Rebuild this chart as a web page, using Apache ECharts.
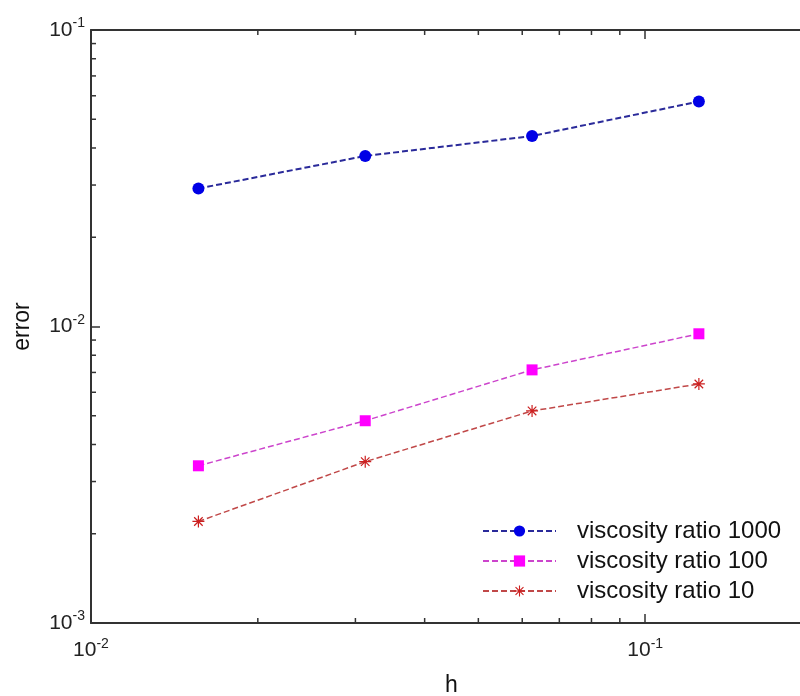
<!DOCTYPE html>
<html>
<head>
<meta charset="utf-8">
<script src="https://cdn.jsdelivr.net/npm/echarts@6/dist/echarts.min.js"></script>
<style>
html,body{margin:0;padding:0;background:#fff;}
#chart{width:800px;height:696px;}
</style>
</head>
<body>
<div id="chart"></div>
<script>
// ---- data ----
const hValues = [0.015625, 0.03125, 0.0625, 0.125];
const seriesNames = ['viscosity ratio 1000', 'viscosity ratio 100', 'viscosity ratio 10'];
const err1000 = [0.0292, 0.0376, 0.0439, 0.0574];
const err100 = [0.00339, 0.00481, 0.00714, 0.00945];
const err10 = [0.00220, 0.00350, 0.00519, 0.00640];
const xMinorTicks = [0.02, 0.03, 0.04, 0.05, 0.06, 0.07, 0.08, 0.09, 0.2];
const yMinorTicks = [0.002, 0.003, 0.004, 0.005, 0.006, 0.007, 0.008, 0.009,
                     0.02, 0.03, 0.04, 0.05, 0.06, 0.07, 0.08, 0.09];
const xMin = 0.01, xMax = 0.2, yMin = 0.001, yMax = 0.1;

const FONT = "'Liberation Sans', Arial, sans-serif";
const starPath = 'path://M9 0 L11 0 L11 20 L9 20 Z M0 9 L20 9 L20 11 L0 11 Z M2.2 3.6 L3.6 2.2 L17.8 16.4 L16.4 17.8 Z M16.4 2.2 L17.8 3.6 L3.6 17.8 L2.2 16.4 Z';

function powLabel(v) {
  const l = Math.log10(v);
  const e = Math.round(l);
  if (Math.abs(l - e) > 1e-6) return '';
  return '{b|10}{s|' + e + '}';
}
const labelRich = {
  b: { fontSize: 21, fontFamily: FONT, color: '#222' },
  s: { fontSize: 14, fontFamily: FONT, color: '#222', padding: [0, 0, 13, 0] }
};

const chart = echarts.init(document.getElementById('chart'), null, { renderer: 'canvas' });

function pairs(ys) { return hValues.map((x, i) => [x, ys[i]]); }

const axisLineStyle = { color: '#333', width: 2 };
const tickStyle = { color: '#333', width: 1.5 };

const option = {
  backgroundColor: '#fff',
  animation: false,
  grid: { left: 91, top: 30, width: 721, height: 593, containLabel: false, outerBoundsMode: 'none' },
  xAxis: [{
    type: 'log', logBase: 10, min: xMin, max: xMax,
    name: 'h', nameLocation: 'middle', nameGap: 51,
    nameTextStyle: { fontSize: 23, fontFamily: FONT, color: '#111' },
    axisLine: { show: true, lineStyle: axisLineStyle },
    axisTick: { show: true, inside: true, length: 9, lineStyle: tickStyle },
    axisLabel: { formatter: powLabel, rich: labelRich, margin: 14 },
    splitLine: { show: false }
  }, {
    type: 'log', logBase: 10, min: xMin, max: xMax, position: 'top',
    axisLine: { show: true, onZero: false, lineStyle: axisLineStyle },
    axisTick: { show: true, inside: true, length: 9, lineStyle: tickStyle },
    axisLabel: { show: false }, splitLine: { show: false }
  }],
  yAxis: [{
    type: 'log', logBase: 10, min: yMin, max: yMax,
    name: 'error', nameLocation: 'middle', nameGap: 57,
    nameTextStyle: { fontSize: 23, fontFamily: FONT, color: '#111' },
    axisLine: { show: true, lineStyle: axisLineStyle },
    axisTick: { show: true, inside: true, length: 9, lineStyle: tickStyle },
    axisLabel: { formatter: powLabel, rich: labelRich, margin: 6 },
    splitLine: { show: false }
  }, {
    type: 'log', logBase: 10, min: yMin, max: yMax, position: 'right',
    axisLine: { show: true, onZero: false, lineStyle: axisLineStyle },
    axisTick: { show: true, inside: true, length: 9, lineStyle: tickStyle },
    axisLabel: { show: false }, splitLine: { show: false }
  }],
  legend: {
    orient: 'vertical', left: 482, top: 519, padding: 0,
    itemWidth: 73, itemHeight: 14, itemGap: 6,
    data: seriesNames,
    textStyle: { fontSize: 24, fontFamily: FONT, color: '#111', padding: [0, 0, 0, 16] }
  },
  series: [
    {
      name: seriesNames[0], type: 'line', data: pairs(err1000),
      symbol: 'circle', symbolSize: 12,
      itemStyle: { color: '#0000e6' },
      lineStyle: { color: '#2a2a9a', width: 2, type: [6, 3] }
    },
    {
      name: seriesNames[1], type: 'line', data: pairs(err100),
      symbol: 'rect', symbolSize: 11,
      itemStyle: { color: '#ff00ff' },
      lineStyle: { color: '#cc44cc', width: 1.5, type: [6, 3] }
    },
    {
      name: seriesNames[2], type: 'line', data: pairs(err10),
      symbol: starPath, symbolSize: 12,
      itemStyle: { color: '#cc2020' },
      lineStyle: { color: '#c04848', width: 1.5, type: [6, 3] }
    },
    {
      name: 'xminor', type: 'custom', silent: true, clip: false,
      data: xMinorTicks.map(v => [v, yMin]),
      renderItem: function (params, api) {
        const p = api.coord([api.value(0), api.value(1)]);
        const cs = params.coordSys;
        const st = { stroke: '#333', lineWidth: 1.5 };
        return { type: 'group', children: [
          { type: 'line', shape: { x1: p[0], y1: cs.y + cs.height, x2: p[0], y2: cs.y + cs.height - 5 }, style: st },
          { type: 'line', shape: { x1: p[0], y1: cs.y, x2: p[0], y2: cs.y + 5 }, style: st }
        ]};
      }
    },
    {
      name: 'yminor', type: 'custom', silent: true, clip: false,
      data: yMinorTicks.map(v => [xMin, v]),
      renderItem: function (params, api) {
        const p = api.coord([api.value(0), api.value(1)]);
        const cs = params.coordSys;
        const st = { stroke: '#333', lineWidth: 1.5 };
        return { type: 'group', children: [
          { type: 'line', shape: { x1: cs.x, y1: p[1], x2: cs.x + 5, y2: p[1] }, style: st },
          { type: 'line', shape: { x1: cs.x + cs.width, y1: p[1], x2: cs.x + cs.width - 5, y2: p[1] }, style: st }
        ]};
      }
    }
  ]
};
chart.setOption(option);
</script>
</body>
</html>
